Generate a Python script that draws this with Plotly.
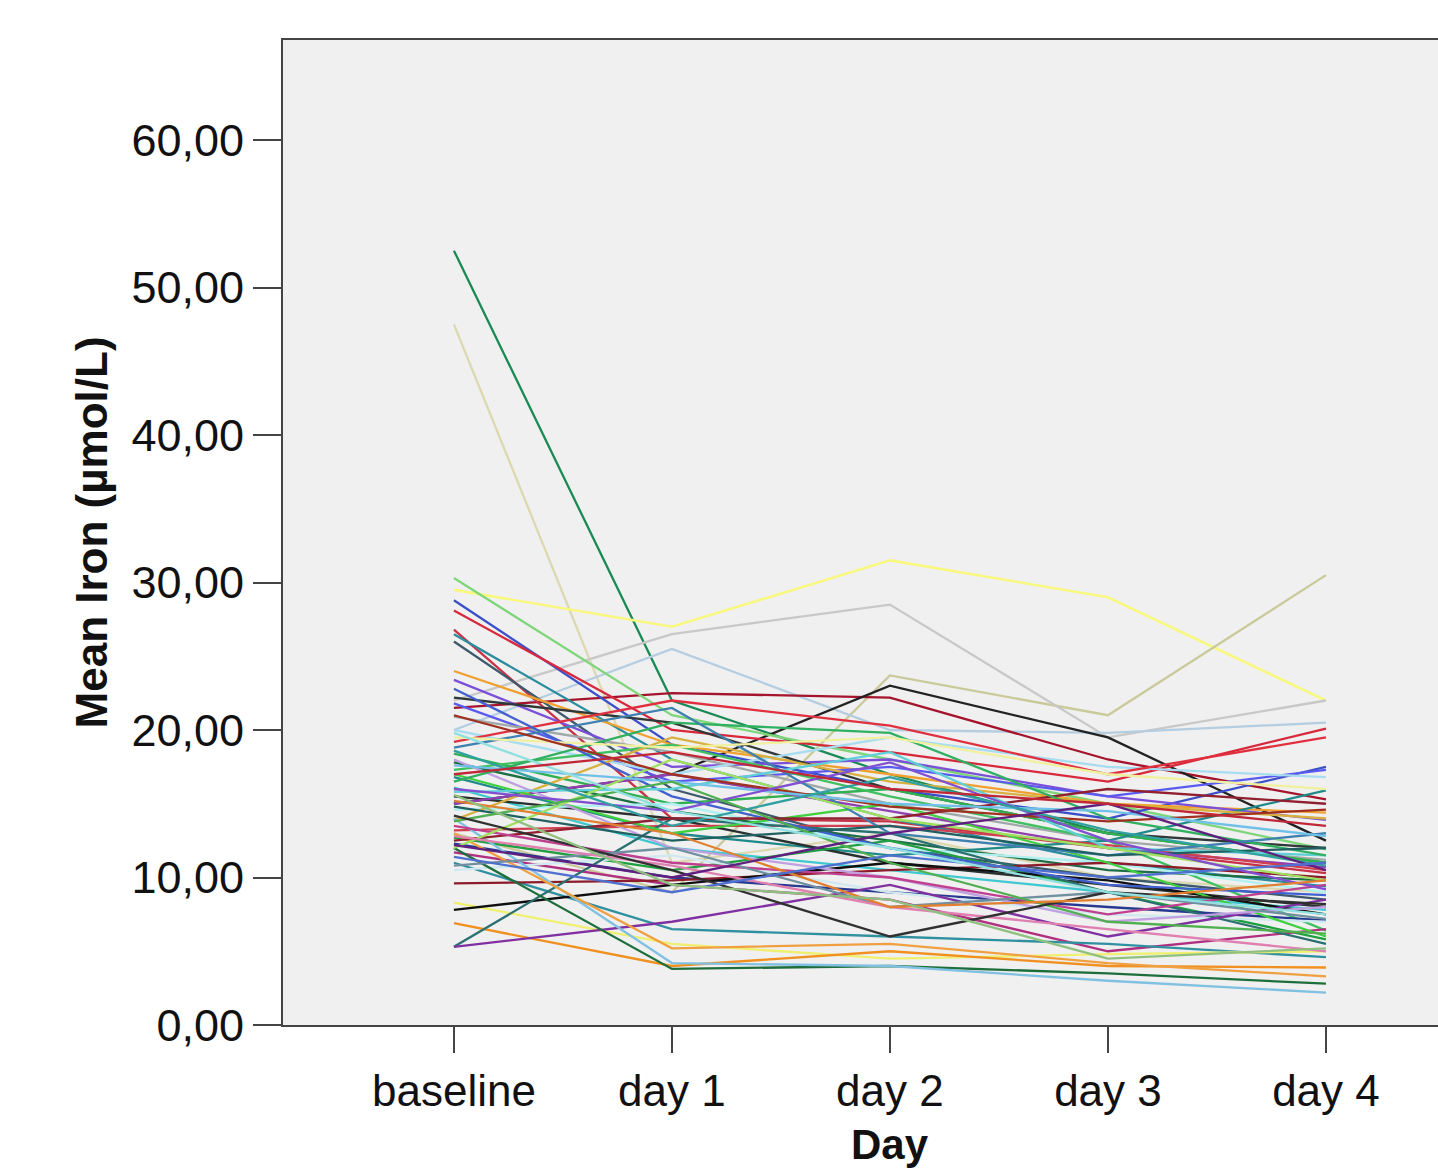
import plotly.graph_objects as go

days = ["baseline", "day 1", "day 2", "day 3", "day 4"]

baseline = [52.5, 47.5, 29.5, 13.0, 22.0, 20.0, 21.5, 15.0, 30.3, 28.8,
            28.1, 26.8, 26.5, 26.0, 24.0, 23.4, 22.2, 21.8, 20.9, 20.0,
            19.2, 18.4, 17.8, 17.3, 16.8, 16.1, 15.5, 15.0, 14.6, 13.9,
            13.2, 12.7, 12.3, 11.7, 11.0, 10.5, 9.6, 8.3, 7.8, 6.9,
            5.3, 5.3, 12.0, 14.0, 17.0, 13.0, 18.0, 22.8, 12.5, 15.8,
            16.5, 13.5, 18.8, 19.5, 14.8, 12.0, 10.8, 21.0, 17.6, 16.0,
            13.8, 12.8, 14.2, 18.6, 15.2, 12.2, 11.4, 15.6, 19.8, 17.0]
day1 = [22.0, 11.0, 27.0, 9.0, 26.5, 25.5, 22.5, 17.0, 21.0, 19.0,
        20.0, 14.0, 18.0, 16.0, 19.0, 17.5, 20.5, 16.5, 18.5, 17.0,
        22.0, 15.0, 14.5, 19.0, 13.0, 12.0, 14.0, 17.0, 15.0, 19.5,
        13.5, 10.5, 10.0, 9.5, 6.5, 11.5, 9.8, 5.5, 9.5, 4.0,
        14.0, 7.0, 3.8, 4.2, 13.0, 5.2, 12.0, 15.5, 14.0, 16.0,
        20.5, 11.0, 21.5, 18.8, 12.5, 18.0, 12.0, 17.0, 16.5, 14.5,
        16.5, 10.8, 10.5, 13.5, 13.0, 10.0, 9.0, 9.5, 14.5, 18.5]
day2 = [17.0, 13.0, 31.5, 23.7, 28.5, 20.0, 22.2, 23.0, 18.0, 16.0,
        18.5, 13.8, 14.0, 12.0, 17.0, 18.0, 16.0, 17.5, 15.0, 19.5,
        20.3, 16.0, 12.5, 15.5, 11.5, 10.5, 11.0, 14.5, 12.0, 16.5,
        13.5, 12.5, 9.0, 8.5, 6.0, 9.0, 10.5, 4.5, 11.0, 5.0,
        13.0, 9.5, 4.0, 4.0, 15.0, 5.5, 10.0, 12.0, 14.0, 18.5,
        19.8, 10.0, 13.0, 19.5, 13.5, 14.0, 8.0, 14.8, 15.0, 17.8,
        11.0, 8.0, 6.0, 16.8, 8.0, 13.0, 11.5, 8.5, 12.0, 16.0]
day3 = [13.0, 10.0, 29.0, 21.0, 19.5, 19.8, 18.0, 19.5, 15.0, 14.0,
        16.5, 12.0, 11.0, 10.0, 15.0, 15.5, 13.0, 15.5, 12.5, 17.5,
        17.0, 13.0, 10.5, 12.5, 12.5, 9.0, 9.5, 12.0, 11.0, 15.0,
        12.2, 9.0, 8.0, 5.0, 5.5, 7.5, 11.0, 4.8, 9.8, 4.0,
        9.0, 6.0, 3.5, 3.0, 11.0, 4.2, 7.0, 9.5, 16.0, 12.0,
        14.0, 7.5, 11.5, 17.0, 11.5, 12.0, 9.0, 13.8, 14.5, 12.5,
        7.0, 6.5, 9.0, 13.2, 8.5, 15.0, 10.0, 4.5, 9.0, 15.0]
day4 = [11.0, 9.0, 22.0, 30.5, 22.0, 20.5, 15.3, 12.5, 11.9, 17.5,
        20.1, 10.3, 9.4, 8.5, 14.4, 13.9, 12.0, 17.3, 11.2, 16.8,
        19.5, 11.0, 9.8, 6.4, 15.9, 7.8, 8.0, 10.7, 9.0, 14.0,
        10.5, 5.8, 7.1, 6.5, 4.6, 7.0, 10.0, 5.0, 7.5, 3.9,
        5.5, 8.5, 2.8, 2.2, 6.0, 3.3, 8.0, 8.8, 15.0, 11.5,
        11.5, 9.5, 13.0, 16.0, 12.0, 9.8, 7.2, 14.6, 12.8, 9.2,
        6.2, 5.0, 8.2, 10.8, 9.8, 10.5, 11.0, 5.2, 7.5, 13.5]

colors = ["#1a8a55", "#dcd8b0", "#f8f880", "#c9c99a", "#c8c8c8", "#b4cde0", "#a4142c", "#222222", "#7fd67a", "#3a4fc8",
          "#d8283c", "#c83246", "#2a8c9c", "#3c5a6a", "#f0a030", "#7a50d8", "#303838", "#5a5af0", "#a0a8a8", "#a8dcf0",
          "#e03040", "#30b050", "#1e6e46", "#40c060", "#208a8a", "#40c8d0", "#283030", "#9040b0", "#b0f0f0", "#d8b040",
          "#d04050", "#20a040", "#283a90", "#b03080", "#3090a0", "#d0e8f0", "#8c1c2c", "#f0f070", "#101010", "#f09020",
          "#2a7070", "#8030a0", "#1e6e3c", "#80c0e0", "#40d040", "#f0a040", "#c0a0e0", "#4060d0", "#902030", "#60d0d8",
          "#30b060", "#c04090", "#4080b0", "#f0f0a0", "#206060", "#a0e060", "#7090a0", "#a03020", "#70c0e8", "#8050d0",
          "#50b050", "#e080b0", "#303030", "#30a0a0", "#e08030", "#602080", "#5070d0", "#90c080", "#90e0e0", "#c02838"]

fig = go.Figure()
for i in range(len(baseline)):
    fig.add_trace(go.Scatter(
        x=list(range(len(days))),
        y=[baseline[i], day1[i], day2[i], day3[i], day4[i]],
        mode="lines",
        line=dict(color=colors[i % len(colors)], width=2.6 if i == 2 else 2.3),
        showlegend=False,
        hoverinfo="skip",
    ))

font_family = "Liberation Sans, Arial, sans-serif"
fig.update_layout(
    width=1438, height=1170,
    margin=dict(l=283, r=0, t=40, b=145),
    paper_bgcolor="white",
    plot_bgcolor="#f0f0f0",
    separators=",.",
    font=dict(family=font_family, size=44, color="#111111"),
    xaxis=dict(
        range=[-0.784, 4.514],
        tickvals=list(range(len(days))),
        ticktext=days,
        showgrid=False, zeroline=False,
        showline=True, linecolor="#444444", linewidth=2, mirror=True,
        ticks="outside", ticklen=26, tickwidth=2, tickcolor="#444444",
        tickfont=dict(size=44, family=font_family, color="#111111"),
    ),
    yaxis=dict(
        range=[0, 66.78],
        tickvals=[0, 10, 20, 30, 40, 50, 60],
        tickformat=".2f",
        showgrid=False, zeroline=False,
        showline=True, linecolor="#444444", linewidth=2, mirror=False,
        ticks="outside", ticklen=28, tickwidth=2, tickcolor="#444444",
        ticklabelstandoff=0,
        tickfont=dict(size=45, family=font_family, color="#111111"),
    ),
    annotations=[
        dict(text="<b>Mean Iron (µmol/L)</b>", xref="paper", yref="paper",
             x=-0.1654, y=0.5, xanchor="center", yanchor="middle",
             textangle=-90, showarrow=False,
             font=dict(size=44, family=font_family, color="#111111")),
        dict(text="<b>Day</b>", xref="paper", yref="paper",
             x=0.5255, y=-0.1472, xanchor="center", yanchor="bottom",
             showarrow=False,
             font=dict(size=42, family=font_family, color="#111111")),
    ],
)

fig.write_html("out.html")
